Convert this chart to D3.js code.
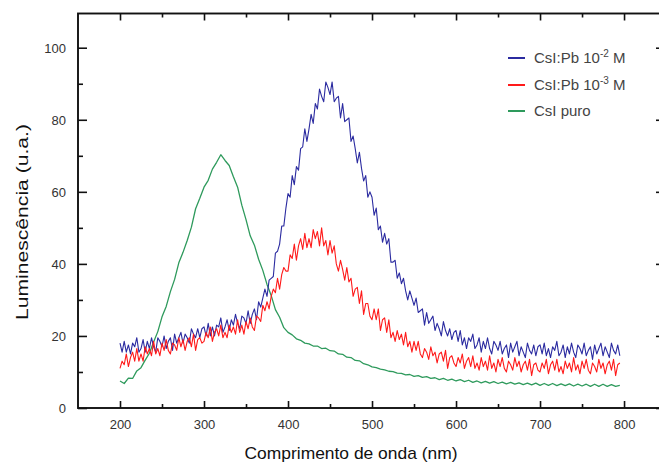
<!DOCTYPE html>
<html>
<head>
<meta charset="utf-8">
<script src="https://cdn.jsdelivr.net/npm/d3@7"></script>
<style>
  html, body { margin: 0; padding: 0; background: #fff; }
  svg { display: block; }
  text { font-family: "Liberation Sans", Arial, Helvetica, sans-serif; }
</style>
</head>
<body>
<svg id="chart" width="659" height="465"></svg>
<script>
// ---- Data ----
// fine wavelength grid (nm) for the two doped samples
const wavelengthsFine = [200,202.5,205,207.5,210,212.5,215,217.5,220,222.5,225,227.5,230,232.5,235,237.5,240,242.5,245,247.5,
  250,252.5,255,257.5,260,262.5,265,267.5,270,272.5,275,277.5,280,282.5,285,287.5,290,292.5,295,297.5,
  300,302.5,305,307.5,310,312.5,315,317.5,320,322.5,325,327.5,330,332.5,335,337.5,340,342.5,345,347.5,
  350,352.5,355,357.5,360,362.5,365,367.5,370,372.5,375,377.5,380,382.5,385,387.5,390,392.5,395,397.5,
  400,402.5,405,407.5,410,412.5,415,417.5,420,422.5,425,427.5,430,432.5,435,437.5,440,442.5,445,447.5,
  450,452.5,455,457.5,460,462.5,465,467.5,470,472.5,475,477.5,480,482.5,485,487.5,490,492.5,495,497.5,
  500,502.5,505,507.5,510,512.5,515,517.5,520,522.5,525,527.5,530,532.5,535,537.5,540,542.5,545,547.5,
  550,552.5,555,557.5,560,562.5,565,567.5,570,572.5,575,577.5,580,582.5,585,587.5,590,592.5,595,597.5,
  600,602.5,605,607.5,610,612.5,615,617.5,620,622.5,625,627.5,630,632.5,635,637.5,640,642.5,645,647.5,
  650,652.5,655,657.5,660,662.5,665,667.5,670,672.5,675,677.5,680,682.5,685,687.5,690,692.5,695,697.5,
  700,702.5,705,707.5,710,712.5,715,717.5,720,722.5,725,727.5,730,732.5,735,737.5,740,742.5,745,747.5,
  750,752.5,755,757.5,760,762.5,765,767.5,770,772.5,775,777.5,780,782.5,785,787.5,790,792.5,795];

const bluePb2 = [18,15.5,18.5,15.5,17.5,15,18,17,19.5,15.5,16.5,19,15.5,18.5,16.5,19.5,17,15.5,19.5,18.5,
  17,20,16.5,18.5,19.5,16,20.5,18,19.5,21,18,20.5,19.5,18,22,20.5,19.5,22,19.5,22,
  22.5,20,23.5,20,22.5,20,23,22.5,25,21,22.5,24.5,21.5,24.5,23,26,23.5,22,25.5,25,
  23.5,27,23.5,26,27.5,24.5,29.5,28,30.5,33,31,35.5,36,36.5,43,43.5,45.5,50.5,50.5,55.5,
  59.5,58.5,64.5,62,67,66,72,72.5,77.5,74,77.5,81.5,79,84.5,83,88.5,86.5,85,90.5,89,
  87,90.5,85,86,86.5,80.5,84.5,79.5,80,80.5,74,75.5,72,68,71,66.5,63,64.5,58.5,60,
  58.5,53.5,55.5,49.5,50.5,46,48.5,45.5,47,40.5,40.5,41,36,37.5,34.5,36,32.5,30,32.5,30.5,
  28.5,30.5,26.5,27,27.5,23,26.5,23.5,24.5,25.5,21.5,23.5,22,20,24,21.5,20,22,19,21,
  21.5,18.5,21.5,17.5,19.5,16.5,19.5,18.5,20.5,16.5,17.5,19.5,15.5,18.5,16.5,19.5,16.5,15,18.5,17.5,
  16,18.5,15,16.5,17.5,14,18,15.5,17,18.5,14.5,17,15.5,14,18,16,15,17.5,14.5,17,
  17.5,15,18,14.5,16.5,14,17,16,18.5,14.5,15.5,17.5,14,17,15,18,15.5,14,17.5,16.5,
  15,18,14.5,16,17,13.5,17.5,15,16.5,18,14.5,17,15.5,14,18,16,15,17.5,14.5];

const redPb3 = [11,13,12,15,11.5,14,15.5,13,16.5,13,15,13,17,15,16.5,14.5,18.5,15,16.5,14.5,
  18,16,19,16,15,18,17.5,16,19.5,17,19,16,18.5,19.5,17,20.5,16,19,19.5,18,
  18.5,21,19.5,22.5,18.5,21,22,20,23,19.5,21,19.5,23,21,22.5,20.5,24.5,21,23,20.5,
  24,22,25,22.5,21.5,25.5,25,24,28.5,27,29.5,27.5,31,33,32,36,33,37,39,38,
  38,42.5,41.5,45.5,41,45,47,44,48.5,44.5,47,44.5,49.5,47,49,45,50,45,46.5,42.5,
  46.5,43,45,40,38,41,38.5,35.5,39,35,36,31,33,33.5,29,32.5,26,29,29,25.5,
  24.5,27.5,24.5,27.5,21.5,24.5,25,21,24.5,19.5,21,18.5,21.5,19,20.5,17.5,21,17,18.5,15.5,
  18.5,16,18.5,15,14,16.5,15.5,13.5,17,14.5,15.5,12.5,15,15.5,13,16,11,14,14.5,12.5,
  11.5,14,12.5,15,11,13,14,11.5,14.5,11,12.5,10.5,14,11.5,13,10.5,14.5,11,12.5,10,
  13.5,11.5,14,11,10,13,12,10.5,14,11.5,13,10,12,13,10.5,13.5,9,12,12.5,10.5,
  10,12.5,11,13.5,9.5,12,13,10.5,13.5,10,11.5,9.5,13,11,12.5,10,14,10.5,12,9.5,
  13,11,13.5,10.5,9.5,12.5,11.5,10,13.5,11,12.5,9.5,12,13,10.5,13.5,9,12,12.5];

// coarser grid (nm) for the undoped sample
const wavelengths = [200,205,210,215,220,225,230,235,240,245,250,255,260,265,270,275,280,285,290,295,
  300,305,310,315,320,325,330,335,340,345,350,355,360,365,370,375,380,385,390,395,
  400,405,410,415,420,425,430,435,440,445,450,455,460,465,470,475,480,485,490,495,
  500,505,510,515,520,525,530,535,540,545,550,555,560,565,570,575,580,585,590,595,
  600,605,610,615,620,625,630,635,640,645,650,655,660,665,670,675,680,685,690,695,
  700,705,710,715,720,725,730,735,740,745,750,755,760,765,770,775,780,785,790,795];

const greenPuro = [7.5,6.8,8.3,8.2,10.3,11.2,13.3,15.2,18.3,21.2,25.3,28.2,32.3,35.7,40.3,43.2,46.5,50.2,55.3,58.2,
  61.3,63.2,66.3,68.2,70.3,68.7,67.3,64.2,61.3,56.3,52.3,47.8,45.2,41.3,38.2,34.3,31.2,27.3,25.2,22.3,
  21,20.3,19.2,18.8,18,17.8,17.2,17.2,16.5,16.6,15.9,15.8,15,14.9,14.1,14,13.2,13.1,12.3,12,
  11.4,11.2,10.8,10.6,10.2,10.1,9.7,9.6,9.2,9.3,8.8,9,8.5,8.7,8.2,8.4,7.9,8.2,7.7,8,
  7.5,7.9,7.3,7.7,7.1,7.5,7,7.4,6.9,7.3,6.8,7.2,6.7,7.1,6.6,7,6.5,6.9,6.4,6.9,
  6.3,6.8,6.3,6.8,6.2,6.7,6.2,6.7,6.1,6.6,6.1,6.6,6,6.6,6,6.6,6,6.5,6,6.3];

const seriesNames = ["CsI:Pb 10", "CsI:Pb 10", "CsI puro"];
const seriesSup = ["-2", "-3", ""];
const seriesColors = ["#2b2ba0", "#ff1a1a", "#2e9a5c"];
const xMajorTicks = [200, 300, 400, 500, 600, 700, 800];
const xMinorTicks = [250, 350, 450, 550, 650, 750];
const yMajorTicks = [0, 20, 40, 60, 80, 100];
const yMinorTicks = [10, 30, 50, 70, 90];

// ---- Layout ----
const svg = d3.select("#chart");
const W = 659, H = 465;
svg.append("rect").attr("width", W).attr("height", H).attr("fill", "#fff");

const x = d3.scaleLinear().domain([150, 844]).range([78, 661]);
const y = d3.scaleLinear().domain([0, 109.5]).range([408, 13.5]);

const series = [
  { xs: wavelengthsFine, ys: bluePb2, color: seriesColors[0] },
  { xs: wavelengthsFine, ys: redPb3, color: seriesColors[1] },
  { xs: wavelengths, ys: greenPuro, color: seriesColors[2] }
];

const drawOrder = [2, 0, 1];
drawOrder.forEach(k => {
  const s = series[k];
  const line = d3.line().x((d, i) => x(s.xs[i])).y(d => y(d));
  svg.append("path")
    .datum(s.ys)
    .attr("d", line)
    .attr("fill", "none")
    .attr("stroke", s.color)
    .attr("stroke-width", k === 2 ? 1.3 : 1.1)
    .attr("stroke-linejoin", "round");
});

// axes with inward ticks on all four sides
const axisColor = "#111";
const gB = svg.append("g").attr("transform", `translate(0,${y(0)})`)
  .call(d3.axisBottom(x).tickValues(xMajorTicks).tickSizeInner(-7).tickSizeOuter(0).tickPadding(12));
const gBm = svg.append("g").attr("transform", `translate(0,${y(0)})`)
  .call(d3.axisBottom(x).tickValues(xMinorTicks).tickSizeInner(-4).tickSizeOuter(0).tickFormat(""));
const gT = svg.append("g").attr("transform", `translate(0,${y(109.5)})`)
  .call(d3.axisTop(x).tickValues(xMajorTicks).tickSizeInner(-7).tickSizeOuter(0).tickFormat(""));
const gTm = svg.append("g").attr("transform", `translate(0,${y(109.5)})`)
  .call(d3.axisTop(x).tickValues(xMinorTicks).tickSizeInner(-4).tickSizeOuter(0).tickFormat(""));
const gL = svg.append("g").attr("transform", `translate(${x(150)},0)`)
  .call(d3.axisLeft(y).tickValues(yMajorTicks).tickSizeInner(-9).tickSizeOuter(0).tickPadding(12));
const gLm = svg.append("g").attr("transform", `translate(${x(150)},0)`)
  .call(d3.axisLeft(y).tickValues(yMinorTicks).tickSizeInner(-5).tickSizeOuter(0).tickFormat(""));
const gR = svg.append("g").attr("transform", `translate(${x(844)},0)`)
  .call(d3.axisRight(y).tickValues(yMajorTicks).tickSizeInner(-5).tickSizeOuter(0).tickFormat(""));

[gB, gBm, gT, gTm, gL, gLm, gR].forEach(g => {
  g.select(".domain").remove();
  g.selectAll(".tick line").attr("stroke", axisColor).attr("stroke-width", 1.6);
  g.selectAll(".tick text").attr("fill", "#333").attr("font-size", 13)
    .attr("font-family", "'Liberation Sans', Arial, sans-serif");
});
gL.selectAll(".tick text").attr("dy", "0.35em");
gB.selectAll(".tick text").attr("dy", "0.71em");

// frame
svg.append("rect")
  .attr("x", x(150)).attr("y", y(109.5))
  .attr("width", x(844) - x(150)).attr("height", y(0) - y(109.5))
  .attr("fill", "none").attr("stroke", axisColor).attr("stroke-width", 1.9);

// axis titles
svg.append("text")
  .attr("x", 351).attr("y", 459)
  .attr("text-anchor", "middle")
  .attr("font-size", 17).attr("fill", "#111")
  .attr("textLength", 213).attr("lengthAdjust", "spacingAndGlyphs")
  .text("Comprimento de onda (nm)");

svg.append("text")
  .attr("transform", "translate(28,222) rotate(-90)")
  .attr("text-anchor", "middle")
  .attr("font-size", 17).attr("fill", "#111")
  .attr("textLength", 196).attr("lengthAdjust", "spacingAndGlyphs")
  .text("Luminescência (u.a.)");

// legend
const legY = [58, 85, 111];
seriesNames.forEach((name, k) => {
  svg.append("line")
    .attr("x1", 508).attr("x2", 525)
    .attr("y1", legY[k]).attr("y2", legY[k])
    .attr("stroke", seriesColors[k]).attr("stroke-width", 2);
  const t = svg.append("text")
    .attr("x", 534).attr("y", legY[k] + 5)
    .attr("font-size", 15).attr("fill", "#444");
  t.append("tspan").text(name);
  if (seriesSup[k]) {
    t.append("tspan").attr("dy", -6).attr("font-size", 10).text(seriesSup[k]);
    t.append("tspan").attr("dy", 6).attr("font-size", 15).text(" M");
  }
});
</script>
</body>
</html>
